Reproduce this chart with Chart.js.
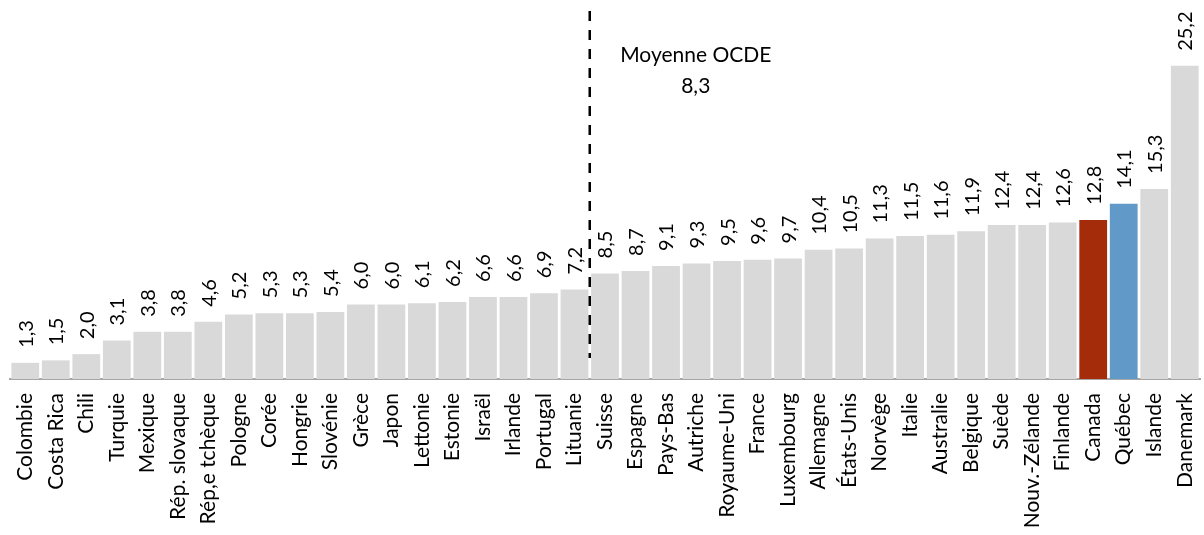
<!DOCTYPE html>
<html lang="fr">
<head>
<meta charset="utf-8">
<title>Comparaison OCDE</title>
<script src="https://cdn.jsdelivr.net/npm/chart.js@4/dist/chart.umd.min.js"></script>
<style>
  html, body { margin: 0; padding: 0; background: #ffffff; }
  #wrap { width: 1204px; height: 535px; position: relative; }
</style>
</head>
<body>
<div id="wrap"><canvas id="chart" width="1204" height="535"></canvas></div>
<script>
// Pays et territoires, triés par valeur croissante
const categories = [
  "Colombie", "Costa Rica", "Chili", "Turquie", "Mexique", "Rép. slovaque",
  "Rép,e tchèque", "Pologne", "Corée", "Hongrie", "Slovénie", "Grèce", "Japon",
  "Lettonie", "Estonie", "Israël", "Irlande", "Portugal", "Lituanie", "Suisse",
  "Espagne", "Pays-Bas", "Autriche", "Royaume-Uni", "France", "Luxembourg",
  "Allemagne", "États-Unis", "Norvège", "Italie", "Australie", "Belgique",
  "Suède", "Nouv.-Zélande", "Finlande", "Canada", "Québec", "Islande", "Danemark"
];

const values = [
  1.3, 1.5, 2.0, 3.1, 3.8, 3.8, 4.6, 5.2, 5.3, 5.3, 5.4, 6.0, 6.0, 6.1, 6.2,
  6.6, 6.6, 6.9, 7.2, 8.5, 8.7, 9.1, 9.3, 9.5, 9.6, 9.7, 10.4, 10.5, 11.3,
  11.5, 11.6, 11.9, 12.4, 12.4, 12.6, 12.8, 14.1, 15.3, 25.2
];

// Moyenne de l'OCDE, placée entre Lituanie et Suisse
const averageLabel = "Moyenne OCDE";
const averageValue = 8.3;
const averageAfter = "Lituanie";

const highlight = { "Canada": "#a52c0b", "Québec": "#6199c8" };
const baseColor = "#d9d9d9";

const fontFamily = "Lato, 'Open Sans', 'Liberation Sans', sans-serif";
const fmt = v => v.toFixed(1).replace(".", ",");

const barColors = categories.map(c => highlight[c] || baseColor);

// Étiquettes de valeur verticales au-dessus de chaque barre
const valueLabels = {
  id: "valueLabels",
  afterDatasetsDraw(chart) {
    const ctx = chart.ctx;
    const meta = chart.getDatasetMeta(0);
    ctx.save();
    ctx.fillStyle = "#000000";
    ctx.font = "20px " + fontFamily;
    ctx.textAlign = "left";
    ctx.textBaseline = "middle";
    meta.data.forEach((bar, i) => {
      ctx.save();
      ctx.translate(bar.x + 1, bar.y - 15);
      ctx.rotate(-Math.PI / 2);
      ctx.fillText(fmt(values[i]), 0, 0);
      ctx.restore();
    });
    ctx.restore();
  }
};

// Ligne pointillée de la moyenne et son libellé
const averageLine = {
  id: "averageLine",
  afterDatasetsDraw(chart) {
    const ctx = chart.ctx;
    const x = chart.scales.x;
    const i = categories.indexOf(averageAfter);
    const px = (x.getPixelForValue(i) + x.getPixelForValue(i + 1)) / 2;
    ctx.save();
    ctx.strokeStyle = "#000000";
    ctx.lineWidth = 2.5;
    ctx.setLineDash([10, 9]);
    ctx.beginPath();
    ctx.moveTo(px, 11);
    ctx.lineTo(px, 358);
    ctx.stroke();
    ctx.setLineDash([]);
    ctx.fillStyle = "#000000";
    ctx.font = "21px " + fontFamily;
    ctx.textAlign = "center";
    ctx.textBaseline = "middle";
    ctx.fillText(averageLabel, px + 106, 55);
    ctx.fillText(fmt(averageValue), px + 106, 86);
    ctx.restore();
  }
};

new Chart(document.getElementById("chart"), {
  type: "bar",
  data: {
    labels: categories,
    datasets: [{
      data: values,
      backgroundColor: barColors,
      borderWidth: 0,
      barPercentage: 0.91,
      categoryPercentage: 1.0
    }]
  },
  options: {
    responsive: false,
    animation: false,
    layout: { padding: { left: 10, right: 4, top: 0, bottom: 0 } },
    plugins: {
      legend: { display: false },
      tooltip: { enabled: false }
    },
    scales: {
      x: {
        grid: { display: false, drawTicks: false },
        border: { display: true, color: "#a6a6a6", width: 2 },
        ticks: {
          color: "#000000",
          font: { family: fontFamily, size: 21 },
          minRotation: 90,
          maxRotation: 90,
          autoSkip: false,
          padding: 14
        },
        afterFit(scale) {
          scale.height = 156;
          scale.paddingLeft = 0;
          scale.paddingRight = 0;
        }
      },
      y: {
        display: false,
        min: 0,
        max: 30.5
      }
    }
  },
  plugins: [valueLabels, averageLine]
});
</script>
</body>
</html>
